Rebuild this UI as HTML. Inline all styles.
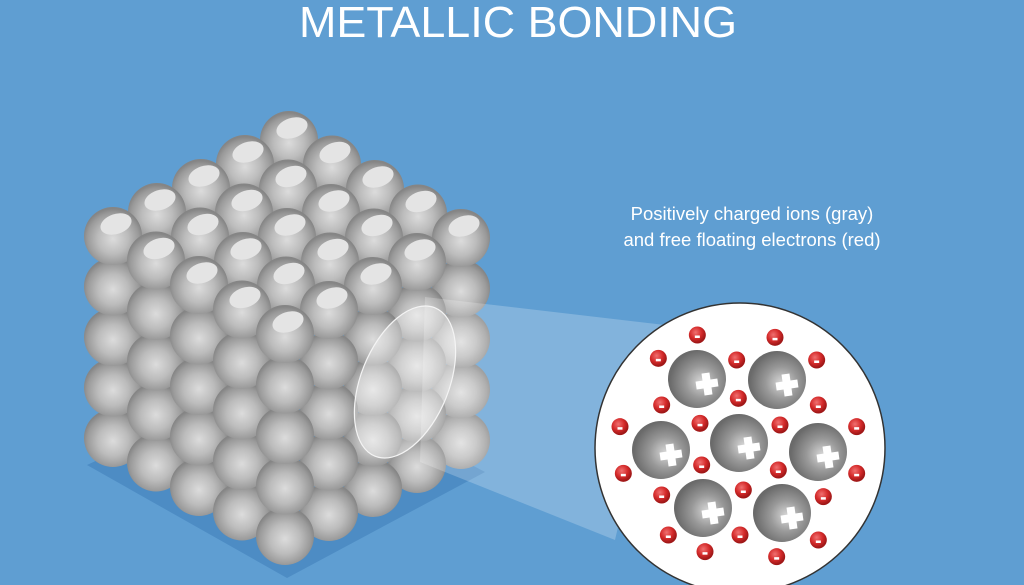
<!DOCTYPE html>
<html><head><meta charset="utf-8"><style>
html,body{margin:0;padding:0;background:#5f9ed2;}
svg{display:block;}
</style></head><body>
<svg id="s" width="1024" height="585" viewBox="0 0 1024 585" xmlns="http://www.w3.org/2000/svg">
<defs>
<radialGradient id="sph" cx="0.5" cy="0.55" r="0.52">
<stop offset="0" stop-color="#dcdcdc"/><stop offset="0.5" stop-color="#bcbcbc"/><stop offset="0.85" stop-color="#9a9a9a"/><stop offset="1" stop-color="#858585"/>
</radialGradient>
<radialGradient id="ion" cx="0.58" cy="0.55" r="0.55">
<stop offset="0" stop-color="#d8d8d8"/><stop offset="0.5" stop-color="#999"/><stop offset="1" stop-color="#6a6a6a"/>
</radialGradient>
<radialGradient id="el" cx="0.4" cy="0.35" r="0.6">
<stop offset="0" stop-color="#f07070"/><stop offset="0.6" stop-color="#d42a2a"/><stop offset="1" stop-color="#a01818"/>
</radialGradient>
</defs>
<rect width="1024" height="585" fill="#5f9ed2"/>
<text x="518" y="37" font-family="Liberation Sans, sans-serif" font-size="44" fill="#fff" text-anchor="middle" textLength="438" lengthAdjust="spacingAndGlyphs">METALLIC  BONDING</text>
<text x="752" y="220" font-family="Liberation Sans, sans-serif" font-size="18.5" fill="#fff" text-anchor="middle">Positively charged ions (gray)</text>
<text x="752" y="246" font-family="Liberation Sans, sans-serif" font-size="18.5" fill="#fff" text-anchor="middle">and free floating electrons (red)</text>
<polygon points="87,465 287,578 485,472 290,370" fill="#4d8cc4"/>
<g id="cube"></g>
<polygon points="425,297 665,325 615,540 420,462" fill="#ffffff" fill-opacity="0.22"/>
<ellipse cx="405" cy="382" rx="44" ry="80" transform="rotate(22 405 382)" fill="#ffffff" fill-opacity="0.35" stroke="#f4f4f4" stroke-width="1.2"/>
<circle cx="740" cy="448" r="145" fill="#fff" stroke="#333" stroke-width="1.5"/>
<g id="inner"></g>
</svg>
<script>
var NS="http://www.w3.org/2000/svg";
function mk(t,a,p){var e=document.createElementNS(NS,t);for(var k in a)e.setAttribute(k,a[k]);p.appendChild(e);return e;}
var cube=document.getElementById('cube');
var list=[];
for(var i=0;i<5;i++)for(var j=0;j<5;j++)for(var k=0;k<5;k++){
 if(!(i==4||j==4||k==0))continue;
 list.push([i,j,k]);
}
list.sort(function(a,b){return (a[0]+a[1])-(b[0]+b[1]) || b[2]-a[2];});
list.forEach(function(p){
 var x=289+43*p[0]-44*p[1], y=140+24.5*p[0]+24*p[1]+50.5*p[2];
 mk('circle',{cx:x,cy:y,r:29,fill:'url(#sph)'},cube);
 if(p[2]==0) mk('ellipse',{cx:x+3,cy:y-12,rx:16,ry:10,transform:'rotate(-18 '+(x+3)+' '+(y-12)+')',fill:'#e4e4e4'},cube);
});
var inner=document.getElementById('inner');
[[697,379],[777,380],[661,450],[739,443],[818,452],[703,508],[782,513]].forEach(function(c){
 mk('circle',{cx:c[0],cy:c[1],r:29,fill:'url(#ion)'},inner);
 var g=mk('g',{transform:'rotate(-8 '+(c[0]+10)+' '+(c[1]+5)+')'},inner);
 mk('rect',{x:c[0]-1,y:c[1]+1,width:22,height:8,fill:'#fff'},g);
 mk('rect',{x:c[0]+6,y:c[1]-6,width:8,height:22,fill:'#fff'},g);
});
[[322,105],[555,112],[205,175],[440,180],[680,180],[215,315],[445,295],[685,315],[90,380],[330,370],[570,375],[800,380],[100,520],[335,495],[565,510],[800,520],[215,585],[460,570],[700,590],[235,705],[450,705],[685,720],[345,755],[560,770]].forEach(function(c){
 var x=c[0]/3+590,y=c[1]/3+300;
 mk('circle',{cx:x,cy:y,r:8.5,fill:'url(#el)'},inner);
 mk('rect',{x:x-2.5,y:y+0.5,width:5,height:2.5,fill:'#fff'},inner);
});
</script>
</body></html>
